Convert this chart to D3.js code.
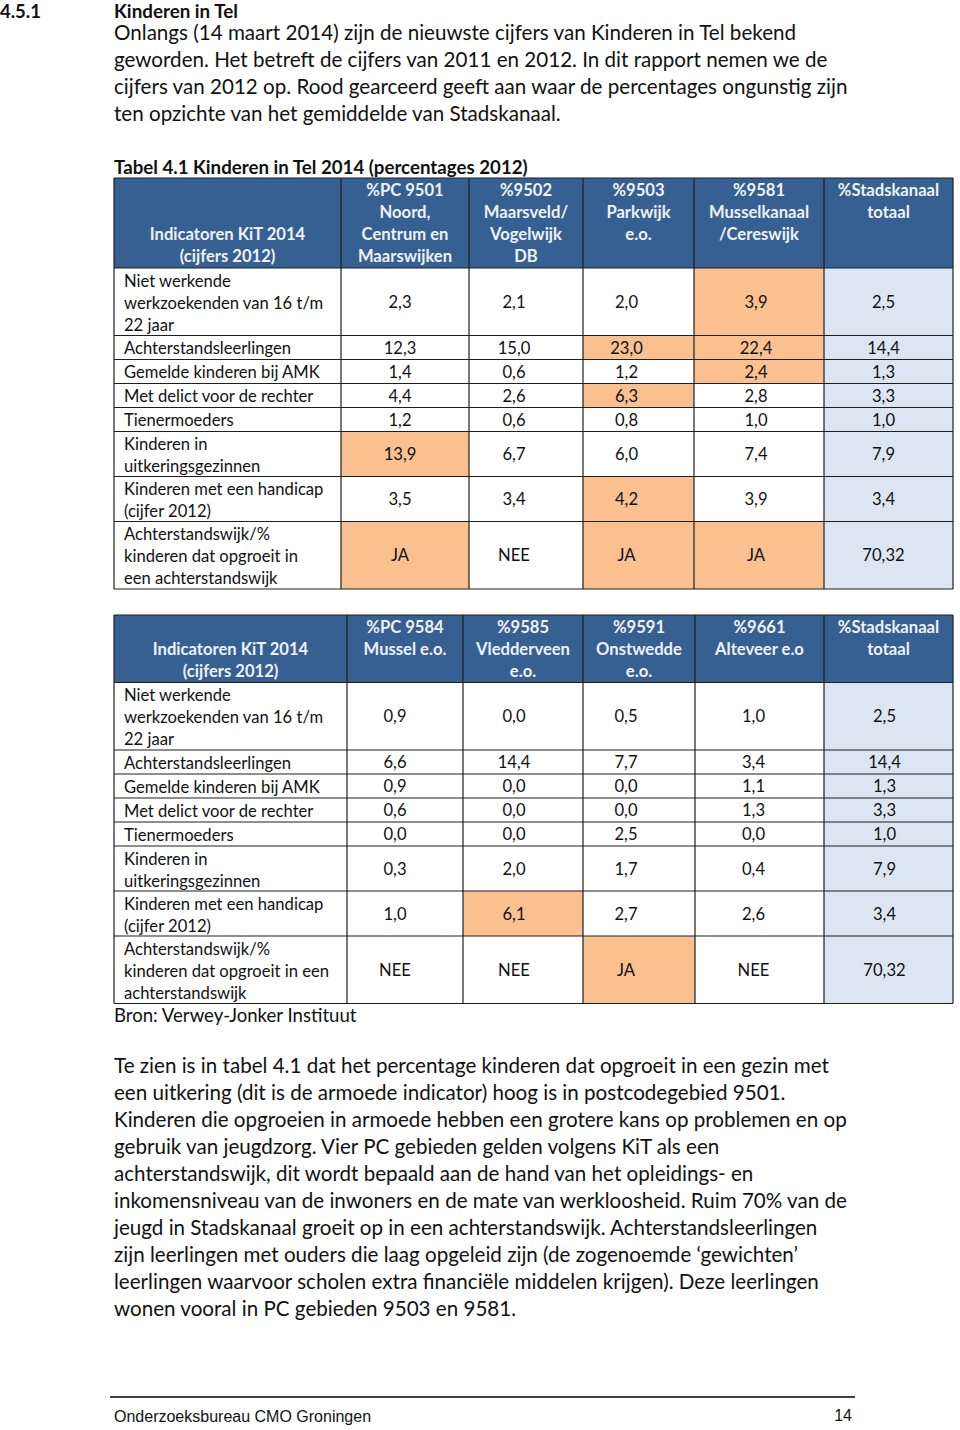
<!DOCTYPE html>
<html>
<head>
<meta charset="utf-8">
<script src="https://cdn.jsdelivr.net/npm/d3@7"></script>
<style>
  html, body { margin: 0; padding: 0; background: #fff; }
  svg { display: block; }
</style>
</head>
<body>
<div id="chart"></div>
<script>
// ---------------- DATA ----------------
const sectionNumber = "4.5.1";
const sectionTitle = "Kinderen in Tel";
const introLines = [
  "Onlangs (14 maart 2014) zijn de nieuwste cijfers van Kinderen in Tel bekend",
  "geworden. Het betreft de cijfers van 2011 en 2012. In dit rapport nemen we de",
  "cijfers van 2012 op. Rood gearceerd geeft aan waar de percentages ongunstig zijn",
  "ten opzichte van het gemiddelde van Stadskanaal."
];
const tableTitle = "Tabel 4.1 Kinderen in Tel 2014 (percentages 2012)";

const headers1 = [
  ["Indicatoren KiT 2014", "(cijfers 2012)"],
  ["%PC 9501", "Noord,", "Centrum en", "Maarswijken"],
  ["%9502", "Maarsveld/", "Vogelwijk", "DB"],
  ["%9503", "Parkwijk", "e.o."],
  ["%9581", "Musselkanaal", "/Cereswijk"],
  ["%Stadskanaal", "totaal"]
];
const indicators1 = [
  ["Niet werkende", "werkzoekenden van 16 t/m", "22 jaar"],
  ["Achterstandsleerlingen"],
  ["Gemelde kinderen bij AMK"],
  ["Met delict voor de rechter"],
  ["Tienermoeders"],
  ["Kinderen in", "uitkeringsgezinnen"],
  ["Kinderen met een handicap", "(cijfer 2012)"],
  ["Achterstandswijk/%", "kinderen dat opgroeit in", "een achterstandswijk"]
];
const values1 = [
  ["2,3", "2,1", "2,0", "3,9", "2,5"],
  ["12,3", "15,0", "23,0", "22,4", "14,4"],
  ["1,4", "0,6", "1,2", "2,4", "1,3"],
  ["4,4", "2,6", "6,3", "2,8", "3,3"],
  ["1,2", "0,6", "0,8", "1,0", "1,0"],
  ["13,9", "6,7", "6,0", "7,4", "7,9"],
  ["3,5", "3,4", "4,2", "3,9", "3,4"],
  ["JA", "NEE", "JA", "JA", "70,32"]
];
// 1 = unfavourable compared with Stadskanaal average (orange)
const unfavourable1 = [
  [0, 0, 0, 1],
  [0, 0, 1, 1],
  [0, 0, 0, 1],
  [0, 0, 1, 0],
  [0, 0, 0, 0],
  [1, 0, 0, 0],
  [0, 0, 1, 0],
  [1, 0, 1, 1]
];

const headers2 = [
  ["Indicatoren KiT 2014", "(cijfers 2012)"],
  ["%PC 9584", "Mussel e.o."],
  ["%9585", "Vledderveen", "e.o."],
  ["%9591", "Onstwedde", "e.o."],
  ["%9661", "Alteveer e.o"],
  ["%Stadskanaal", "totaal"]
];
const indicators2 = [
  ["Niet werkende", "werkzoekenden van 16 t/m", "22 jaar"],
  ["Achterstandsleerlingen"],
  ["Gemelde kinderen bij AMK"],
  ["Met delict voor de rechter"],
  ["Tienermoeders"],
  ["Kinderen in", "uitkeringsgezinnen"],
  ["Kinderen met een handicap", "(cijfer 2012)"],
  ["Achterstandswijk/%", "kinderen dat opgroeit in een", "achterstandswijk"]
];
const values2 = [
  ["0,9", "0,0", "0,5", "1,0", "2,5"],
  ["6,6", "14,4", "7,7", "3,4", "14,4"],
  ["0,9", "0,0", "0,0", "1,1", "1,3"],
  ["0,6", "0,0", "0,0", "1,3", "3,3"],
  ["0,0", "0,0", "2,5", "0,0", "1,0"],
  ["0,3", "2,0", "1,7", "0,4", "7,9"],
  ["1,0", "6,1", "2,7", "2,6", "3,4"],
  ["NEE", "NEE", "JA", "NEE", "70,32"]
];
const unfavourable2 = [
  [0, 0, 0, 0],
  [0, 0, 0, 0],
  [0, 0, 0, 0],
  [0, 0, 0, 0],
  [0, 0, 0, 0],
  [0, 0, 0, 0],
  [0, 1, 0, 0],
  [0, 0, 1, 0]
];

const sourceText = "Bron: Verwey-Jonker Instituut";
const bodyLines = [
  "Te zien is in tabel 4.1 dat het percentage kinderen dat opgroeit in een gezin met",
  "een uitkering (dit is de armoede indicator) hoog is in postcodegebied 9501.",
  "Kinderen die opgroeien in armoede hebben een grotere kans op problemen en op",
  "gebruik van jeugdzorg. Vier PC gebieden gelden volgens KiT als een",
  "achterstandswijk, dit wordt bepaald aan de hand van het opleidings- en",
  "inkomensniveau van de inwoners en de mate van werkloosheid. Ruim 70% van de",
  "jeugd in Stadskanaal groeit op in een achterstandswijk. Achterstandsleerlingen",
  "zijn leerlingen met ouders die laag opgeleid zijn (de zogenoemde \u2018gewichten\u2019",
  "leerlingen waarvoor scholen extra financi\u00eble middelen krijgen). Deze leerlingen",
  "wonen vooral in PC gebieden 9503 en 9581."
];
const footerLeft = "Onderzoeksbureau CMO Groningen";
const footerPage = "14";

// ---------------- LAYOUT / STYLE ----------------
const W = 960, H = 1430;
const FONT = "Lato, 'Open Sans', sans-serif";
const C = {
  header: "#376092",
  headerText: "#eef2f8",
  orange: "#FAC090",
  total: "#DCE6F2",
  border: "#1e1e1e",
  text: "#111"
};
const textSize = 20.6, tableSize = 16.6;
const lineStep = 27, cellLine = 22;
const rowHeight = d3.scaleOrdinal().domain([1, 2, 3, 4]).range([24, 45, 67.5, 90]);

const svg = d3.select("#chart").append("svg")
  .attr("width", W).attr("height", H)
  .style("font-family", FONT);

// heading
svg.append("text").attr("x", 0).attr("y", 17.5)
  .attr("font-size", 18.5).attr("font-weight", 700).attr("fill", C.text)
  .text(sectionNumber);
svg.append("text").attr("x", 114).attr("y", 17.5)
  .attr("font-size", 18.8).attr("font-weight", 700).attr("fill", C.text)
  .text(sectionTitle);

const introY = d3.scaleLinear().domain([0, 1]).range([40, 40 + lineStep]);
svg.append("g").selectAll("text").data(introLines).join("text")
  .attr("x", 114).attr("y", (d, i) => introY(i))
  .attr("font-size", textSize).attr("fill", C.text).text(d => d);

svg.append("text").attr("x", 114).attr("y", 174)
  .attr("font-size", 18.7).attr("font-weight", 700).attr("fill", C.text)
  .text(tableTitle);

function drawTable(top, edges, dxs, headers, indicators, values, flags) {
  const g = svg.append("g");
  const nCols = headers.length;
  const colX = d3.scaleOrdinal().domain(d3.range(nCols + 1)).range(edges);
  const colW = i => colX(i + 1) - colX(i);

  const hLines = d3.max(headers, h => h.length);
  const hH = rowHeight(hLines);
  const rowH = indicators.map(r => rowHeight(r.length));
  const rowTops = [];
  let acc = top + hH;
  rowH.forEach(h => { rowTops.push(acc); acc += h; });
  const bottom = acc;
  const rowY = d3.scaleOrdinal().domain(d3.range(indicators.length)).range(rowTops);

  // header background
  g.append("rect").attr("x", colX(0)).attr("y", top)
    .attr("width", colX(nCols) - colX(0)).attr("height", hH)
    .attr("fill", C.header);

  // header text
  headers.forEach((lines, c) => {
    const start = c === 0 ? hLines - lines.length : 0;
    g.append("g").selectAll("text").data(lines).join("text")
      .attr("x", colX(c) + colW(c) / 2)
      .attr("y", (d, i) => top + 18 + (start + i) * cellLine)
      .attr("text-anchor", "middle")
      .attr("font-size", tableSize).attr("font-weight", 700)
      .attr("fill", C.headerText).text(d => d);
  });

  // body cells
  const cells = [];
  values.forEach((row, r) => row.forEach((v, c) => {
    cells.push({ r, c: c + 1, v, bad: c < 4 ? flags[r][c] : 0, total: c === 4 });
  }));
  g.append("g").selectAll("rect").data(cells).join("rect")
    .attr("x", d => colX(d.c)).attr("y", d => rowY(d.r))
    .attr("width", d => colW(d.c)).attr("height", d => rowH[d.r])
    .attr("fill", d => d.total ? C.total : (d.bad ? C.orange : "#fff"));
  g.append("g").selectAll("text").data(cells).join("text")
    .attr("x", d => colX(d.c) + colW(d.c) / 2 + dxs[d.c - 1])
    .attr("y", d => rowY(d.r) + rowH[d.r] / 2 + 6)
    .attr("text-anchor", "middle")
    .attr("font-size", tableSize).attr("fill", C.text)
    .text(d => d.v);

  // indicator labels
  indicators.forEach((lines, r) => {
    g.append("g").selectAll("text").data(lines).join("text")
      .attr("x", colX(0) + 10)
      .attr("y", (d, i) => rowY(r) + 18.5 + i * cellLine)
      .attr("font-size", tableSize).attr("fill", C.text).text(d => d);
  });

  // grid lines
  const hYs = [top, top + hH, ...rowTops.slice(1), bottom];
  g.append("g").selectAll("line").data(hYs).join("line")
    .attr("x1", colX(0)).attr("x2", colX(nCols))
    .attr("y1", d => d).attr("y2", d => d)
    .attr("stroke", C.border).attr("stroke-width", 1.2);
  g.append("g").selectAll("line").data(d3.range(nCols + 1)).join("line")
    .attr("x1", d => colX(d)).attr("x2", d => colX(d))
    .attr("y1", top).attr("y2", bottom)
    .attr("stroke", C.border).attr("stroke-width", 1.2);
  return bottom;
}

drawTable(178, [114, 341, 469, 583, 694, 824, 953], [-5, -12, -12, -3, -5],
  headers1, indicators1, values1, unfavourable1);
drawTable(615, [114, 347, 463, 583, 695, 824, 953], [-10, -9, -13, -6, -4],
  headers2, indicators2, values2, unfavourable2);

svg.append("text").attr("x", 114).attr("y", 1022)
  .attr("font-size", 18.6).attr("fill", C.text).text(sourceText);

const bodyY = d3.scaleLinear().domain([0, 1]).range([1073, 1073 + lineStep]);
svg.append("g").selectAll("text").data(bodyLines).join("text")
  .attr("x", 114).attr("y", (d, i) => bodyY(i))
  .attr("font-size", textSize).attr("fill", C.text).text(d => d);

// footer
svg.append("line").attr("x1", 110).attr("x2", 855).attr("y1", 1397).attr("y2", 1397)
  .attr("stroke", "#000").attr("stroke-width", 1.5);
svg.append("text").attr("x", 114).attr("y", 1422)
  .attr("font-family", "'Liberation Sans', Arial, sans-serif")
  .attr("font-size", 16).attr("fill", C.text).text(footerLeft);
svg.append("text").attr("x", 852).attr("y", 1421).attr("text-anchor", "end")
  .attr("font-family", "'Liberation Sans', Arial, sans-serif")
  .attr("font-size", 16).attr("fill", C.text).text(footerPage);
</script>
</body>
</html>
